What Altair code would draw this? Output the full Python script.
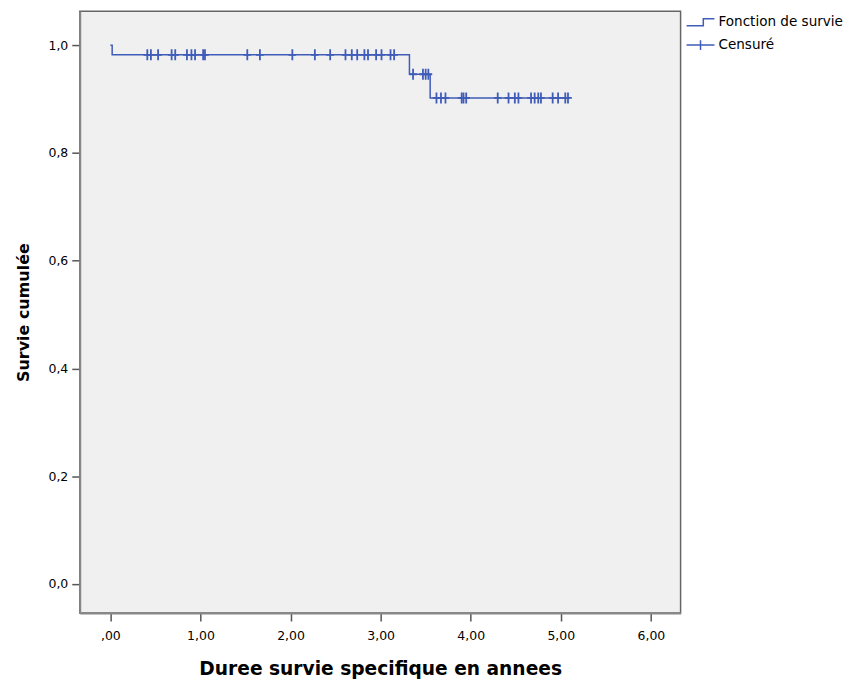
import altair as alt
import pandas as pd

# Kaplan-Meier step function (time in years, cumulative survival)
step_t = [0.0, 0.02, 3.32, 3.55, 5.10]
step_s = [1.0, 0.982, 0.946, 0.902, 0.902]

# Censored observations, grouped by the survival level they sit on
cens_level_1 = [0.41, 0.45, 0.53, 0.68, 0.72, 0.85, 0.90, 0.94, 1.03, 1.05,
                1.52, 1.66, 2.02, 2.27, 2.44, 2.61, 2.68, 2.74, 2.82, 2.86,
                2.95, 3.01, 3.11, 3.15]
cens_level_2 = [3.36, 3.47, 3.50, 3.53]
cens_level_3 = [3.62, 3.67, 3.72, 3.90, 3.92, 3.95, 4.30, 4.42, 4.49, 4.53,
                4.67, 4.71, 4.75, 4.78, 4.91, 4.97, 5.05, 5.08]
levels = [0.982, 0.946, 0.902]

legend_labels = ["Fonction de survie", "Censuré"]
x_ticks = [0, 1, 2, 3, 4, 5, 6]
y_ticks = [0.0, 0.2, 0.4, 0.6, 0.8, 1.0]

BLUE = "#3f5cb8"
FONT = "DejaVu Sans"

step_df = pd.DataFrame({"t": step_t, "s": step_s})
cens_rows = []
for lvl, ts in zip(levels, [cens_level_1, cens_level_2, cens_level_3]):
    for t in ts:
        cens_rows.append({"t": t, "s": lvl})
cens_df = pd.DataFrame(cens_rows)
legend_df = pd.DataFrame({"kind": legend_labels, "t": [0.0, 0.0], "s": [1.0, 1.0]})

x_scale = alt.Scale(domain=[-0.34, 6.33], nice=False, zero=False)
y_scale = alt.Scale(domain=[-0.054, 1.063], nice=False, zero=False)

x_axis = alt.Axis(
    values=x_ticks,
    labelExpr="datum.value == 0 ? ',00' : replace(format(datum.value, '.2f'), '.', ',')",
    grid=False, tickSize=8, tickWidth=1.5, tickColor="#555555",
    domainColor="#888888", domainWidth=2,
    labelFont=FONT, labelFontSize=12.5, labelColor="black", labelPadding=9,
    title="Duree survie specifique en annees", titleFont=FONT,
    titleFontSize=18.7, titleFontWeight="bold", titleColor="black", titlePadding=17,
)
y_axis = alt.Axis(
    values=y_ticks,
    labelExpr="replace(format(datum.value, '.1f'), '.', ',')",
    grid=False, tickSize=8, tickWidth=1.5, tickColor="#555555",
    domainColor="#888888", domainWidth=2,
    labelFont=FONT, labelFontSize=12.5, labelColor="black", labelPadding=4,
    title="Survie cumulée", titleFont=FONT,
    titleFontSize=16, titleFontWeight="bold", titleColor="black", titlePadding=17,
)

line = alt.Chart(step_df).mark_line(
    interpolate="step-after", color=BLUE, strokeWidth=1.5
).encode(
    x=alt.X("t:Q", scale=x_scale, axis=x_axis),
    y=alt.Y("s:Q", scale=y_scale, axis=y_axis),
)

plus_path = "M0,-1V1M-0.7,0H0.7"
cens = alt.Chart(cens_df).mark_point(
    shape=plus_path, filled=False, stroke=BLUE, strokeWidth=1.8, size=121, opacity=1
).encode(
    x=alt.X("t:Q", scale=x_scale),
    y=alt.Y("s:Q", scale=y_scale),
)

step_glyph = "M-2,0.5H0.4V-0.5H2"
plus_glyph = "M-2,0H2M0,-0.7V0.7"
legend_layer = alt.Chart(legend_df).mark_point(
    filled=False, opacity=0, stroke=BLUE
).encode(
    x=alt.X("t:Q", scale=x_scale),
    y=alt.Y("s:Q", scale=y_scale),
    shape=alt.Shape(
        "kind:N",
        scale=alt.Scale(domain=legend_labels, range=[step_glyph, plus_glyph]),
        legend=alt.Legend(
            title=None, orient="none", legendX=615, legendY=3,
            symbolSize=196, symbolStrokeColor=BLUE, symbolStrokeWidth=1.5,
            symbolFillColor="transparent", symbolOpacity=1,
            labelFont=FONT, labelFontSize=13.6, labelColor="black",
            labelOffset=10, rowPadding=8, padding=0,
        ),
    ),
)

chart = alt.layer(line, cens, legend_layer).properties(
    width=603, height=604,
    autosize=alt.AutoSizeParams(type="none"),
    padding={"left": 72, "top": 2, "right": 165, "bottom": 66},
    background="white",
).configure_view(
    fill="#f0f0f0", stroke="#666666", strokeWidth=1.5
)

chart.save("out.html", embed_options={"renderer": "svg", "actions": False})
